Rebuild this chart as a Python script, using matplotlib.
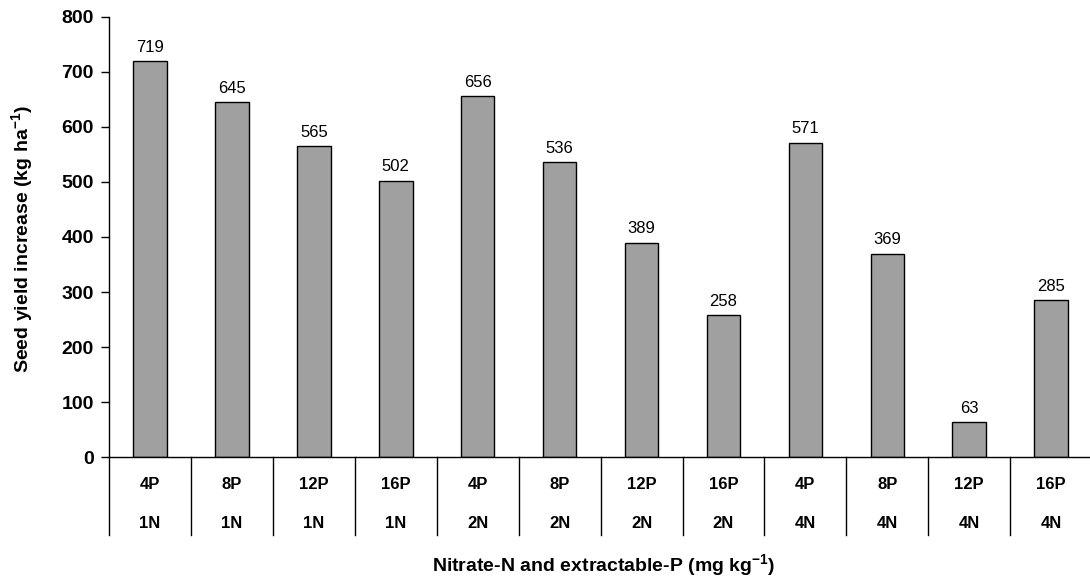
import numpy as np
import matplotlib.pyplot as plt

plt.rcParams['font.family'] = ['Liberation Sans', 'DejaVu Sans']
plt.rcParams['mathtext.fontset'] = 'custom'
plt.rcParams['mathtext.bf'] = 'Liberation Sans:bold'
plt.rcParams['mathtext.rm'] = 'Liberation Sans'

p_levels = ['4P', '8P', '12P', '16P', '4P', '8P', '12P', '16P', '4P', '8P', '12P', '16P']
n_levels = ['1N', '1N', '1N', '1N', '2N', '2N', '2N', '2N', '4N', '4N', '4N', '4N']
yield_increase = [719, 645, 565, 502, 656, 536, 389, 258, 571, 369, 63, 285]

fig = plt.figure(figsize=(10.9, 5.83), dpi=100)
ax = fig.add_axes([0.1, 0.216, 0.902, 0.755])

x = np.arange(len(yield_increase))
ax.bar(x, yield_increase, width=0.41, color='#a0a0a0', edgecolor='black', linewidth=1)

for xi, v in zip(x, yield_increase):
    ax.text(xi, v + 12, str(v), ha='center', va='bottom', fontsize=12)

ax.set_xlim(-0.5, len(x) - 0.5)
ax.set_ylim(0, 800)
ax.set_yticks(range(0, 801, 100))
ax.tick_params(axis='y', direction='out', length=6, labelsize=14, width=1, pad=5)
for lbl in ax.get_yticklabels():
    lbl.set_fontweight('bold')
ax.set_xticks([])

ax.spines['top'].set_visible(False)
ax.spines['right'].set_visible(False)
ax.spines['left'].set_linewidth(1)
ax.spines['bottom'].set_linewidth(1)

# two-row category labels with separators
trans = ax.get_xaxis_transform()
for i in range(len(x)):
    ax.plot([i - 0.5, i - 0.5], [0, -0.178], color='black', lw=1,
            transform=trans, clip_on=False)
    ax.text(i, -0.063, p_levels[i], ha='center', va='center',
            fontsize=12, fontweight='bold', transform=trans)
    ax.text(i, -0.15, n_levels[i], ha='center', va='center',
            fontsize=12, fontweight='bold', transform=trans)

fig.text(0.021, 0.59, 'Seed yield increase (kg ha$^{\\mathbf{-1}}$)', rotation=90,
         ha='center', va='center', fontsize=14, fontweight='bold')
fig.text(0.554, 0.03, 'Nitrate-N and extractable-P (mg kg$^{\\mathbf{-1}}$)',
         ha='center', va='center', fontsize=14, fontweight='bold')

fig.savefig('out.png', dpi=100)
